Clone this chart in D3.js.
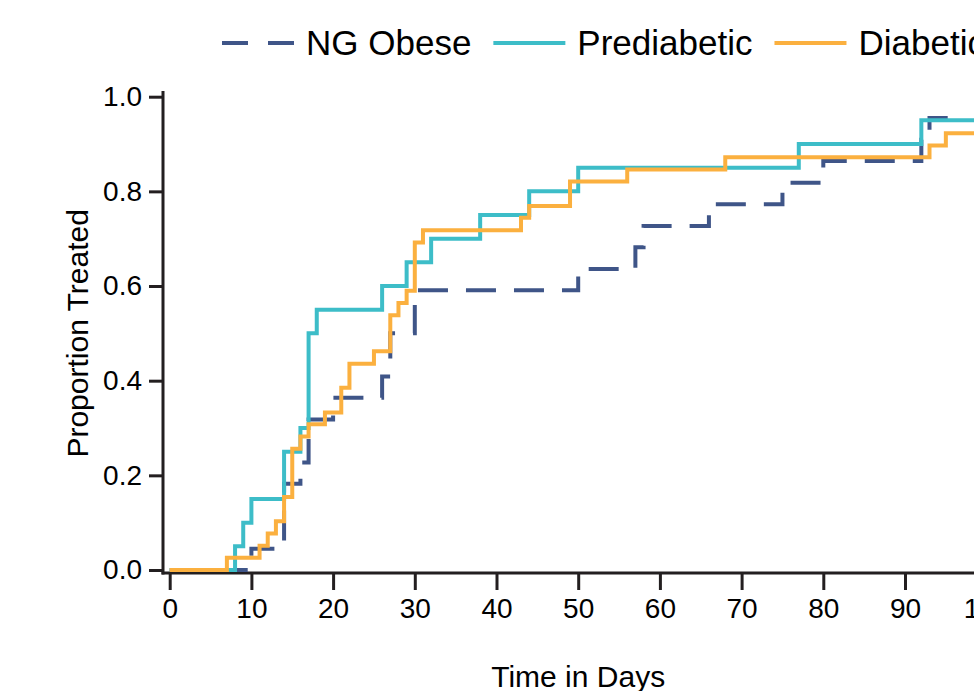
<!DOCTYPE html>
<html>
<head>
<meta charset="utf-8">
<script src="https://cdn.jsdelivr.net/npm/d3@7"></script>
<style>
body { margin: 0; overflow: hidden; background: #fff; }
text { font-family: "Liberation Sans", Arial, sans-serif; fill: #000; }
</style>
</head>
<body>
<svg id="chart" width="1100" height="691"></svg>
<script>
// series names and colours
var seriesNames = ["NG Obese", "Prediabetic", "Diabetic"];
var seriesColors = ["#3f5588", "#3dbdc8", "#fbb03f"];
var seriesDash = ["30,18", null, null];

// step data: event day and cumulative proportion treated
var ngObeseDays = [0, 10, 14, 16, 17, 20, 26, 27, 30, 50, 57, 58, 66, 75, 80, 92, 93, 95.5];
var ngObeseProp = [0, 0.045, 0.182, 0.227, 0.318, 0.364, 0.409, 0.5, 0.591, 0.636, 0.682, 0.727, 0.773, 0.818, 0.864, 0.909, 0.955, 0.955];

var prediabeticDays = [0, 8, 9, 10, 14, 16, 17, 18, 26, 29, 32, 38, 44, 50, 77, 92, 102];
var prediabeticProp = [0, 0.05, 0.10, 0.15, 0.25, 0.30, 0.50, 0.55, 0.60, 0.65, 0.70, 0.75, 0.80, 0.85, 0.90, 0.95, 0.95];

var diabeticDays = [0, 7, 11, 12, 13, 14, 15, 16, 17, 19, 21, 22, 25, 27, 28, 29, 30, 31, 43, 44, 49, 56, 68, 93, 95, 102];
var diabeticProp = [0, 0.026, 0.051, 0.077, 0.103, 0.154, 0.256, 0.282, 0.308, 0.333, 0.385, 0.436, 0.462, 0.538, 0.564, 0.590, 0.692, 0.718, 0.744, 0.769, 0.821, 0.846, 0.872, 0.897, 0.923, 0.923];

var xTicks = [0, 10, 20, 30, 40, 50, 60, 70, 80, 90, 100];
var yTicks = [0, 0.2, 0.4, 0.6, 0.8, 1.0];

var axisColor = "#231f20";

var svg = d3.select("#chart");

var x = d3.scaleLinear().domain([0, 100]).range([169.7, 986.7]);
var y = d3.scaleLinear().domain([0, 1]).range([570, 96.7]);

// x axis
var gx = svg.append("g")
    .attr("transform", "translate(0,573)")
    .call(d3.axisBottom(x).tickValues(xTicks).tickSize(17).tickPadding(8).tickFormat(d3.format("d")));
gx.select(".domain").remove();
gx.selectAll("line").attr("stroke", axisColor).attr("stroke-width", 3);
gx.selectAll("text").style("font-size", "28px");

// y axis
var gy = svg.append("g")
    .attr("transform", "translate(163,0)")
    .call(d3.axisLeft(y).tickValues(yTicks).tickSize(14).tickPadding(7).tickFormat(d3.format(".1f")));
gy.select(".domain").remove();
gy.selectAll("line").attr("stroke", axisColor).attr("stroke-width", 3);
gy.selectAll("text").style("font-size", "28px");

// spines
svg.append("line")
    .attr("x1", 161.5).attr("x2", 1100)
    .attr("y1", 573).attr("y2", 573)
    .attr("stroke", axisColor).attr("stroke-width", 3);
svg.append("line")
    .attr("x1", 163).attr("x2", 163)
    .attr("y1", 91).attr("y2", 574.5)
    .attr("stroke", axisColor).attr("stroke-width", 3);

// step curves
var line = d3.line()
    .x(function(d) { return x(d[0]); })
    .y(function(d) { return y(d[1]); })
    .curve(d3.curveStepAfter);

var series = [
    d3.zip(ngObeseDays, ngObeseProp),
    d3.zip(prediabeticDays, prediabeticProp),
    d3.zip(diabeticDays, diabeticProp)
];

series.forEach(function(data, i) {
    svg.append("path")
        .datum(data)
        .attr("fill", "none")
        .attr("stroke", seriesColors[i])
        .attr("stroke-width", 4)
        .attr("stroke-dasharray", seriesDash[i])
        .attr("d", line);
});

// axis titles
svg.append("text")
    .attr("x", x(50)).attr("y", 687)
    .attr("text-anchor", "middle")
    .style("font-size", "30px")
    .text("Time in Days");

svg.append("text")
    .attr("transform", "translate(88," + (y(0.5)) + ") rotate(-90)")
    .attr("text-anchor", "middle")
    .style("font-size", "30px")
    .text("Proportion Treated");

// legend
var lx = 222;
seriesNames.forEach(function(name, i) {
    svg.append("line")
        .attr("x1", lx).attr("x2", lx + 72)
        .attr("y1", 43).attr("y2", 43)
        .attr("stroke", seriesColors[i])
        .attr("stroke-width", 4)
        .attr("stroke-dasharray", i == 0 ? "26,20" : null);
    var t = svg.append("text")
        .attr("x", lx + 84).attr("y", 55)
        .style("font-size", "35px")
        .text(name);
    lx = lx + 84 + t.node().getComputedTextLength() + 22;
});
</script>
</body>
</html>
